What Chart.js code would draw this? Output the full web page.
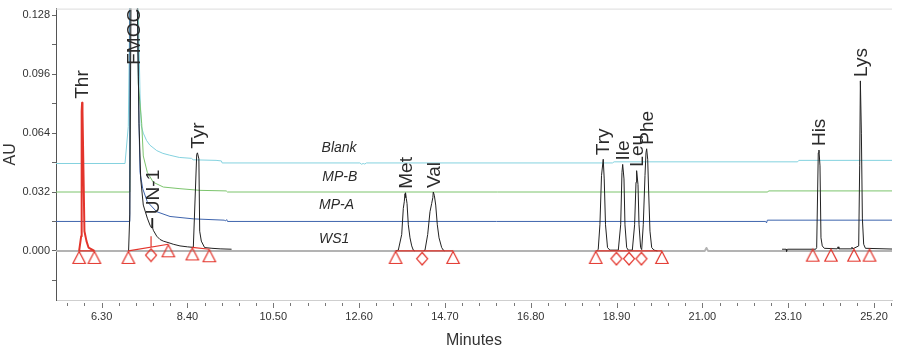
<!DOCTYPE html>
<html>
<head>
<meta charset="utf-8">
<title>Chromatogram</title>
<script src="https://cdn.jsdelivr.net/npm/chart.js@4.4.0/dist/chart.umd.min.js"></script>
<style>
  html, body { margin: 0; padding: 0; background: #fff; }
  #chart-container { width: 906px; height: 348px; }
</style>
</head>
<body>
<div id="chart-container"><canvas id="chrom" width="906" height="348"></canvas></div>
<script>
'use strict';

// ---------------- data ----------------
// every trace is a list of [minutes, AU] pairs, null = gap in the line

// axis
const xMajorTicks = [6.30, 8.40, 10.50, 12.60, 14.70, 16.80, 18.90, 21.00, 23.10, 25.20];
const yMajorTicks = [0.000, 0.032, 0.064, 0.096, 0.128];

// Blank (cyan)
const blankTrace = [
  [5.18, 0.0475], [6.873, 0.0475], [6.953, 0.0676], [6.995, 0.14], [7.19, 0.14],
  [7.24, 0.0853], [7.27, 0.068], [7.32, 0.064], [7.40, 0.060], [7.48, 0.0575],
  [7.65, 0.0545], [7.80, 0.053], [7.97, 0.052], [8.20, 0.0508], [8.50, 0.0503],
  [8.54, 0.0495], [9.10, 0.0492], [9.23, 0.0489], [9.25, 0.0478], [12.62, 0.0478],
  [12.66, 0.0471], [12.70, 0.0475], [12.74, 0.0472], [12.78, 0.0478], [18.80, 0.0478],
  [18.84, 0.0484], [23.33, 0.0484], [23.36, 0.0492], [25.64, 0.0492]
];

// MP-B (green)
const mpbTrace = [
  [5.18, 0.032], [6.978, 0.032], [6.99, 0.14], [7.18, 0.14], [7.198, 0.0907],
  [7.281, 0.0693], [7.32, 0.0516], [7.418, 0.0427], [7.565, 0.0373], [7.81, 0.0347],
  [8.218, 0.0338], [8.708, 0.0329], [9.35, 0.0326], [9.38, 0.032], [22.60, 0.032],
  [22.62, 0.0326], [25.64, 0.0326]
];

// MP-A (blue)
const mpaTrace = [
  [5.18, 0.016], [6.978, 0.016], [6.99, 0.14], [7.17, 0.14], [7.215, 0.0693],
  [7.24, 0.0427], [7.306, 0.0338], [7.418, 0.0267], [7.648, 0.0213], [7.974, 0.0187],
  [8.544, 0.0174], [9.30, 0.0167], [9.33, 0.0163], [9.36, 0.017], [9.38, 0.016],
  [22.55, 0.016], [22.57, 0.0152], [22.59, 0.0167], [25.64, 0.0167]
];

// WS1 zero level (grey part of the trace)
const ws1Zero = [
  [5.18, 0], [21.06, 0], [21.10, 0.0016], [21.14, 0], [25.64, 0]
];

// WS1 peaks (black part of the trace)
const ws1Trace = [
  // FMOC, UN-1, Tyr
  [6.96, 0], [6.99, 0.02], [7.02, 0.14], [7.17, 0.14], [7.20, 0.095], [7.215, 0.069],
  [7.257, 0.039], [7.32, 0.0249], [7.418, 0.0178], [7.484, 0.014], [7.526, 0.0124],
  [7.535, 0.0178], [7.548, 0.0125], [7.565, 0.0112], [7.648, 0.008], [7.729, 0.0062],
  [7.81, 0.0053], [7.974, 0.0042], [8.054, 0.0036], [8.218, 0.0027], [8.40, 0.0022],
  [8.544, 0.0019], [8.627, 0.0525], [8.645, 0.0533], [8.68, 0.050], [8.70, 0.0107],
  [8.74, 0.0053], [8.82, 0.0018], [9.0, 0.0014], [9.2, 0.0011], [9.48, 0.0009], [9.49, null],
  // Met
  [13.50, 0], [13.56, 0.0004], [13.643, 0.0089], [13.682, 0.0231], [13.706, 0.0267],
  [13.724, 0.0311], [13.733, 0.029], [13.741, 0.0316], [13.756, 0.0284], [13.773, 0.0258],
  [13.805, 0.0142], [13.846, 0.0071], [13.888, 0.0027], [13.927, 0.0004], [13.96, 0], [13.97, null],
  // Val
  [14.18, 0], [14.213, 0.0004], [14.279, 0.0089], [14.335, 0.0213], [14.377, 0.0258],
  [14.405, 0.029], [14.416, 0.032], [14.441, 0.0302], [14.475, 0.0249], [14.514, 0.0142],
  [14.556, 0.0071], [14.621, 0.0018], [14.661, 0.0004], [14.69, 0], [14.70, null],
  // Try, Ile, Leu, Phe
  [18.42, 0], [18.452, 0.0009], [18.493, 0.0142], [18.532, 0.0409], [18.574, 0.0498],
  [18.598, 0.0391], [18.630, 0.0142], [18.679, 0.0018], [18.738, 0.0004], [18.943, 0.0004],
  [19.001, 0.0142], [19.033, 0.0427], [19.050, 0.047], [19.082, 0.0391], [19.106, 0.0142],
  [19.148, 0.0018], [19.187, 0.0004], [19.286, 0.0004], [19.342, 0.0142], [19.376, 0.0373],
  [19.391, 0.0436], [19.425, 0.036], [19.450, 0.0142], [19.489, 0.0018], [19.515, 0.0007],
  [19.554, 0.0142], [19.596, 0.0409], [19.620, 0.0533], [19.637, 0.0555], [19.662, 0.0498],
  [19.686, 0.032], [19.718, 0.0107], [19.760, 0.0018], [19.816, 0.0004], [19.90, 0], [19.91, null],
  // His, Lys
  [22.95, 0.0009], [23.05, 0.0009], [23.06, -0.0003], [23.08, 0.0009], [23.773, 0.0009],
  [23.797, 0.0018], [23.836, 0.0533], [23.853, 0.0548], [23.878, 0.0462], [23.902, 0.0071],
  [23.934, 0.0027], [23.983, 0.0014], [24.30, 0.0011], [24.32, 0.0022], [24.34, 0.0011],
  [24.64, 0.0011], [24.66, 0.002], [24.68, 0.0011], [24.825, 0.0027], [24.849, 0.0462],
  [24.866, 0.0924], [24.891, 0.064], [24.915, 0.0178], [24.947, 0.0036], [24.989, 0.0014],
  [25.64, 0.0010]
];

// Thr peak is drawn red in the original
const thrTrace = [
  [5.75, 0], [5.80, 0.008], [5.812, 0.0757], [5.822, 0.0805], [5.832, 0.0757],
  [5.88, 0.0107], [5.93, 0.0053], [5.98, 0.0018], [6.124, 0]
];

// red integration baselines + UN-1 drop line
const integLines = [
  [5.75, 0], [6.124, 0], [6.13, null],
  [6.955, 0], [7.933, 0.0036], [7.94, null],
  [7.51, 0.0019], [7.51, 0.008], [7.52, null],
  [8.52, 0.0019], [8.936, 0.0009], [8.94, null],
  [13.493, 0], [14.90, 0], [14.91, null],
  [18.39, 0], [20.01, 0]
];

// integration marks
const triangleMarks = [
  [5.75, 0], [6.124, 0], [6.955, 0], [7.933, 0.0036], [8.52, 0.0019], [8.936, 0.0009],
  [13.493, 0], [14.90, 0], [18.39, 0], [20.01, 0],
  [23.70, 0.0012], [24.146, 0.0012], [24.71, 0.0012], [25.09, 0.0012]
];
const diamondMarks = [
  [7.51, 0.0019], [14.143, 0], [18.897, 0], [19.205, 0], [19.508, 0]
];

// peak names, retention time and apex height (FMOC is off scale, value = where its name sits)
const peakNames   = ['Thr', 'FMOC', 'UN-1', 'Tyr', 'Met', 'Val', 'Try', 'Ile', 'Leu', 'Phe', 'His', 'Lys'];
const peakTimes   = [5.822, 7.076, 7.54, 8.642, 13.741, 14.416, 18.574, 19.05, 19.391, 19.637, 23.853, 24.866];
const peakHeights = [0.0805, 0.099, 0.0178, 0.0533, 0.0316, 0.032, 0.0498, 0.047, 0.0436, 0.0555, 0.0548, 0.0924];

const seriesNames = ['Blank', 'MP-B', 'MP-A', 'WS1'];

// ---------------- helpers ----------------
function toXY(list) {
  return list.map(p => ({ x: p[0], y: p[1] }));
}

// open red marker drawn in the lower half of a canvas, so the tip sits on the point
function makeMark(kind) {
  const c = document.createElement('canvas');
  c.width = 16;
  c.height = 32;
  const g = c.getContext('2d');
  g.strokeStyle = '#e3342b';
  g.lineWidth = 1.2;
  g.beginPath();
  if (kind == 'tri') {
    g.moveTo(8, 16.5);
    g.lineTo(1.8, 28.5);
    g.lineTo(14.2, 28.5);
  } else {
    g.moveTo(8, 17.5);
    g.lineTo(13.5, 23.8);
    g.lineTo(8, 30);
    g.lineTo(2.5, 23.8);
  }
  g.closePath();
  g.stroke();
  return c;
}

const triImg = makeMark('tri');
const diaImg = makeMark('dia');

// minor ticks: 5 steps between labelled ones
const xStep = 0.42;
const xTickVals = [];
for (let v = xMajorTicks[0] - 2 * xStep; v < 25.64; v += xStep) {
  xTickVals.push(Math.round(v * 100) / 100);
}
const yTickVals = [];
for (let v = -0.016; v <= 0.1281; v += 0.016) {
  yTickVals.push(Math.round(v * 1000) / 1000);
}

function isMajor(list, v) {
  return list.some(m => Math.abs(m - v) < 1e-6);
}

// ---------------- extra drawing: frame, x ticks, names ----------------
const decor = {
  id: 'decor',
  afterDraw(chart) {
    const ctx = chart.ctx;
    const area = chart.chartArea;
    const xs = chart.scales.x;
    const ys = chart.scales.y;

    ctx.save();
    // light frame line on top
    ctx.strokeStyle = '#dcdcdc';
    ctx.lineWidth = 1;
    ctx.beginPath();
    ctx.moveTo(area.left, area.top + 0.5);
    ctx.lineTo(area.right, area.top + 0.5);
    ctx.stroke();

    // x tick marks, a bit below the axis line
    ctx.strokeStyle = '#777';
    xTickVals.forEach(v => {
      const px = Math.round(xs.getPixelForValue(v)) + 0.5;
      const len = isMajor(xMajorTicks, v) ? 5 : 3;
      ctx.beginPath();
      ctx.moveTo(px, area.bottom + 3);
      ctx.lineTo(px, area.bottom + 3 + len);
      ctx.stroke();
    });

    // peak names, rotated
    ctx.fillStyle = '#2b2b2b';
    ctx.font = '19px "Liberation Sans", Arial, sans-serif';
    ctx.textAlign = 'left';
    ctx.textBaseline = 'middle';
    peakNames.forEach((name, i) => {
      const px = xs.getPixelForValue(peakTimes[i]) + 1;
      const py = ys.getPixelForValue(peakHeights[i]) - 4;
      ctx.save();
      ctx.translate(px, py);
      ctx.rotate(-Math.PI / 2);
      ctx.fillText(name, 0, 0);
      ctx.restore();
    });

    // trace names in the middle
    const tagSpots = [[12.11, 0.056], [12.13, 0.040], [12.05, 0.0249], [11.99, 0.0062]];
    ctx.font = 'italic 14px "Liberation Sans", Arial, sans-serif';
    ctx.textAlign = 'center';
    seriesNames.forEach((name, i) => {
      ctx.fillText(name, xs.getPixelForValue(tagSpots[i][0]), ys.getPixelForValue(tagSpots[i][1]));
    });
    ctx.restore();
  }
};

function trace(label, list, color, width, order) {
  return {
    label: label,
    data: toXY(list),
    borderColor: color,
    borderWidth: width,
    borderJoinStyle: 'round',
    pointRadius: 0,
    tension: 0,
    spanGaps: false,
    order: order
  };
}

function marks(label, list, img) {
  return {
    label: label,
    data: toXY(list),
    showLine: false,
    pointStyle: img,
    pointRadius: 6,
    pointHoverRadius: 6,
    order: 0
  };
}

Chart.defaults.font.family = '"Liberation Sans", Arial, sans-serif';
Chart.defaults.color = '#333';

new Chart(document.getElementById('chrom'), {
  type: 'line',
  data: {
    datasets: [
      marks('tri', triangleMarks, triImg),
      marks('dia', diamondMarks, diaImg),
      trace('integration', integLines, '#e3342b', 1.2, 1),
      trace('Thr', thrTrace, '#e3342b', 2, 1),
      trace('WS1', ws1Trace, '#222', 1, 2),
      trace('WS1 zero', ws1Zero, '#b3b3b3', 2, 3),
      trace('MP-A', mpaTrace, '#3e64ad', 1, 4),
      trace('MP-B', mpbTrace, '#7cc46d', 1, 5),
      trace('Blank', blankTrace, '#84d2df', 1, 6)
    ]
  },
  options: {
    responsive: false,
    animation: false,
    events: [],
    layout: { padding: { top: 3, right: 14, left: 0, bottom: 0 } },
    plugins: {
      legend: { display: false },
      tooltip: { enabled: false }
    },
    scales: {
      x: {
        type: 'linear',
        min: 5.184,
        max: 25.64,
        afterFit: s => { s.height = 48; },
        afterBuildTicks: s => { s.ticks = xTickVals.map(v => ({ value: v })); },
        grid: { display: false, drawTicks: false },
        border: { display: true, color: '#cfcfcf', width: 1 },
        ticks: {
          autoSkip: false,
          maxRotation: 0,
          padding: 10,
          font: { size: 11 },
          color: '#333',
          callback: v => isMajor(xMajorTicks, v) ? v.toFixed(2) : ''
        },
        title: {
          display: true,
          text: 'Minutes',
          font: { size: 16 },
          color: '#333',
          padding: { top: 0, bottom: -2 }
        }
      },
      y: {
        type: 'linear',
        min: -0.0267,
        max: 0.1317,
        afterFit: s => { s.width = 56; },
        afterBuildTicks: s => { s.ticks = yTickVals.map(v => ({ value: v })); },
        grid: { drawOnChartArea: false, drawTicks: true, tickLength: 4, color: '#666' },
        border: { display: true, color: '#555', width: 1 },
        ticks: {
          autoSkip: false,
          padding: 2,
          font: { size: 11 },
          color: '#333',
          callback: v => isMajor(yMajorTicks, v) ? v.toFixed(3) : ''
        },
        title: {
          display: true,
          text: 'AU',
          font: { size: 16 },
          color: '#333',
          padding: { top: 1, bottom: 0 }
        }
      }
    }
  },
  plugins: [decor]
});
</script>
</body>
</html>
